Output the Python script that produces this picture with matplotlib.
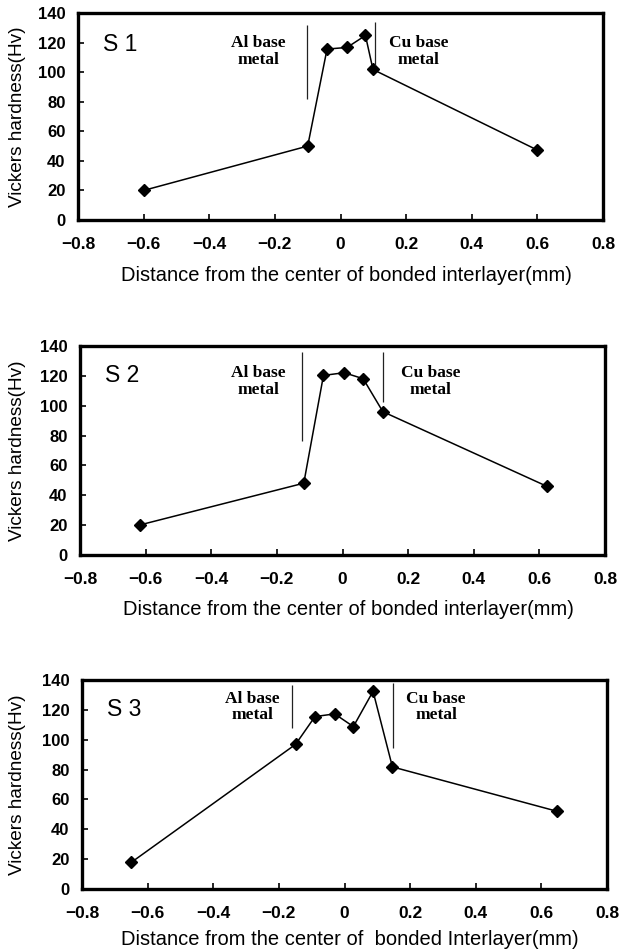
import matplotlib
matplotlib.use("Agg")
import matplotlib.pyplot as plt

# ---- data ----
s1_x = [-0.60, -0.10, -0.041, 0.020, 0.076, 0.099, 0.598]
s1_y = [20, 50, 115.6, 116.7, 124.8, 101.8, 47.5]
s2_x = [-0.618, -0.118, -0.058, 0.005, 0.063, 0.123, 0.624]
s2_y = [20.1, 48.1, 120.3, 122.1, 118.1, 96.0, 45.9]
s3_x = [-0.650, -0.149, -0.090, -0.030, 0.027, 0.087, 0.146, 0.647]
s3_y = [17.8, 96.9, 115.5, 117.3, 108.8, 132.4, 81.8, 52.1]

# boundary lines: (x, y_low, y_high)
s1_al_line = (-0.102, 81.7, 132)
s1_cu_line = (0.105, 104.5, 134)
s2_al_line = (-0.123, 76.2, 136)
s2_cu_line = (0.124, 102.6, 136)
s3_al_line = (-0.159, 107.6, 136.9)
s3_cu_line = (0.148, 94.2, 138)

# annotation text positions (x center, y of first line)
s1_al_text = (-0.249, 120)
s1_cu_text = (0.238, 120)
s2_al_text = (-0.256, 122)
s2_cu_text = (0.268, 122)
s3_al_text = (-0.280, 127.9)
s3_cu_text = (0.279, 127.9)

panel_names = ["S 1", "S 2", "S 3"]
panel_name_y = [119, 120, 120]
x_ticks = [-0.8, -0.6, -0.4, -0.2, 0, 0.2, 0.4, 0.6, 0.8]
x_ticklabels = ["\u22120.8", "\u22120.6", "\u22120.4", "\u22120.2", "0", "0.2", "0.4", "0.6", "0.8"]
y_ticks = [0, 20, 40, 60, 80, 100, 120, 140]
xlabels = ["Distance from the center of bonded interlayer(mm)",
           "Distance from the center of bonded interlayer(mm)",
           "Distance from the center of  bonded Interlayer(mm)"]
ylabel = "Vickers hardness(Hv)"

W, H = 621, 951
fig = plt.figure(figsize=(W / 100, H / 100), dpi=100)

# axes boxes in pixels: left, right, top, bottom
boxes = [(78, 603, 13, 220), (80, 605, 346, 555), (82, 607, 680, 889)]
# top of x label in pixels, and its horizontal center
xlabel_top = [266, 600, 930]
xlabel_cx = [346, 348, 350]

xs = [s1_x, s2_x, s3_x]
ys = [s1_y, s2_y, s3_y]
al_lines = [s1_al_line, s2_al_line, s3_al_line]
cu_lines = [s1_cu_line, s2_cu_line, s3_cu_line]
al_texts = [s1_al_text, s2_al_text, s3_al_text]
cu_texts = [s1_cu_text, s2_cu_text, s3_cu_text]

sans = ["Liberation Sans", "DejaVu Sans"]
serif = ["Liberation Serif", "DejaVu Serif"]

for i in range(3):
    l, r, t, b = boxes[i]
    ax = fig.add_axes([l / W, 1 - b / H, (r - l) / W, (b - t) / H])
    ax.plot(xs[i], ys[i], color="black", lw=1.1, marker="D", markersize=5.8,
            markerfacecolor="black", markeredgecolor="black")
    ax.set_xlim(-0.8, 0.8)
    ax.set_ylim(0, 140)
    ax.set_xticks(x_ticks)
    ax.set_xticklabels(x_ticklabels)
    ax.set_yticks(y_ticks)
    for sp in ax.spines.values():
        sp.set_linewidth(2.4)
    ax.tick_params(axis="both", direction="in", length=4, width=1.2,
                   top=False, right=False)
    ax.tick_params(axis="x", pad=12)
    ax.tick_params(axis="y", pad=9)
    for lab in ax.get_xticklabels():
        lab.set_family(sans)
        lab.set_fontsize(12.5)
        lab.set_fontweight("bold")
    for lab in ax.get_yticklabels():
        lab.set_family(sans)
        lab.set_fontsize(12)
        lab.set_fontweight("bold")

    x0, y0, y1 = al_lines[i]
    ax.vlines(x0, y0, y1, color="#222222", lw=0.9)
    x0, y0, y1 = cu_lines[i]
    ax.vlines(x0, y0, y1, color="#222222", lw=0.9)

    tx, ty = al_texts[i]
    ax.text(tx, ty + 5, "Al base\nmetal", ha="center", va="top", fontsize=12.5,
            family=serif, fontweight="bold", linespacing=1.05)
    tx, ty = cu_texts[i]
    ax.text(tx, ty + 5, "Cu base\nmetal", ha="center", va="top", fontsize=12.5,
            family=serif, fontweight="bold", linespacing=1.05)

    ax.text(-0.725, panel_name_y[i], panel_names[i], ha="left", va="center",
            fontsize=16.5, family=sans)

    ax.set_xlabel(xlabels[i], family=sans, fontsize=14.5)
    ax.set_ylabel(ylabel, family=sans, fontsize=13.7)
    hpx = b - t
    ax.xaxis.set_label_coords((xlabel_cx[i] - l) / (r - l), -(xlabel_top[i] - b) / hpx)
    ax.xaxis.label.set_va("top")
    ax.yaxis.set_label_coords(-(l - 26) / (r - l), 0.5)

fig.savefig("out.png", dpi=100)
